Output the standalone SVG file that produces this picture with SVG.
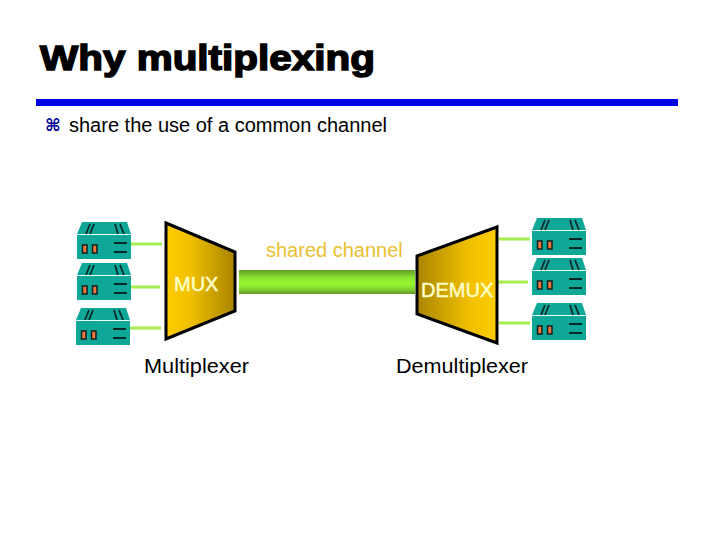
<svg xmlns="http://www.w3.org/2000/svg" width="720" height="540" viewBox="0 0 720 540">
<style>
text{font-family:"Liberation Sans",Arial,sans-serif}
.lbl{font-size:20px;fill:#000}
.in{font-size:20px;fill:#ffffc8;stroke:#ffffc8;stroke-width:.5}
.link{stroke:#a6ee50;stroke-width:3;fill:none}
.box{stroke:#000;stroke-width:3;stroke-linejoin:miter}
</style>
<defs>
<linearGradient id="gl" x1="0" y1="0" x2="1" y2="0"><stop offset="0" stop-color="#ffcc00"/><stop offset=".35" stop-color="#f0c000"/><stop offset="1" stop-color="#a88400"/></linearGradient>
<linearGradient id="gr" x1="0" y1="0" x2="1" y2="0"><stop offset="0" stop-color="#a88400"/><stop offset=".65" stop-color="#f0c000"/><stop offset="1" stop-color="#ffcc00"/></linearGradient>
<linearGradient id="gc" x1="0" y1="0" x2="0" y2="1"><stop offset="0" stop-color="#5f9c28"/><stop offset=".3" stop-color="#88e030"/><stop offset=".55" stop-color="#96f830"/><stop offset=".75" stop-color="#88e030"/><stop offset="1" stop-color="#5f9c28"/></linearGradient>
<g id="dev">
<path d="M5 0H50L54 12V37H0V12Z" fill="#0fa898"/>
<path d="M0 12.500H54" stroke="#e8fff8" stroke-width="1"/>
<path d="M9 12L13 2M13 12L17 2M38 2L41 12M43 2L47 12" stroke="#062a28" stroke-width="1.800" fill="none"/>
<path d="M37 21H50M37 30H50" stroke="#000" stroke-width="1.600" fill="none"/>
<rect x="5.500" y="23" width="4.500" height="8" fill="#f0763c" stroke="#102020" stroke-width="1.500"/>
<rect x="15.500" y="23" width="4.500" height="8" fill="#f0763c" stroke="#102020" stroke-width="1.500"/>
</g>
</defs>
<g id="title"><text x="40" y="70" font-size="35" font-weight="700" stroke="#000" stroke-width="1.500" textLength="335" lengthAdjust="spacingAndGlyphs">Why multiplexing</text></g>
<rect id="rule" x="36" y="99" width="642" height="7" fill="#0000e6"/>
<g id="bullet"><text x="45" y="131" font-size="17" font-weight="700" fill="#000099" style="font-family:'DejaVu Sans',sans-serif">⌘</text><text x="69" y="132" font-size="20">share the use of a common channel</text></g>
<g id="connectors">
<path class="link" d="M131 244H162M128 287H160M130 328H161M499 239H530M497 282H528M499 323H530"/>
<rect x="239" y="270" width="176" height="24" fill="url(#gc)"/>
</g>
<g id="mux"><polygon class="box" points="166,223 235,252 235,311 166,339" fill="url(#gl)"/><text class="in" x="174" y="291">MUX</text></g>
<g id="demux"><polygon class="box" points="417,256 497,227 497,343 417,314" fill="url(#gr)"/><text class="in" x="421" y="297">DEMUX</text></g>
<g id="dev-l1"><use href="#dev" x="77" y="222"/></g>
<g id="dev-l2"><use href="#dev" x="77" y="263"/></g>
<g id="dev-l3"><use href="#dev" x="76" y="308"/></g>
<g id="dev-r1"><use href="#dev" x="532" y="218"/></g>
<g id="dev-r2"><use href="#dev" x="532" y="258"/></g>
<g id="dev-r3"><use href="#dev" x="532" y="303"/></g>
<g id="labels">
<text x="266" y="257" font-size="20" fill="#e8c030">shared channel</text>
<text class="lbl" x="144" y="373" textLength="105" lengthAdjust="spacingAndGlyphs">Multiplexer</text>
<text class="lbl" x="396" y="373" textLength="132" lengthAdjust="spacingAndGlyphs">Demultiplexer</text>
</g>
</svg>
